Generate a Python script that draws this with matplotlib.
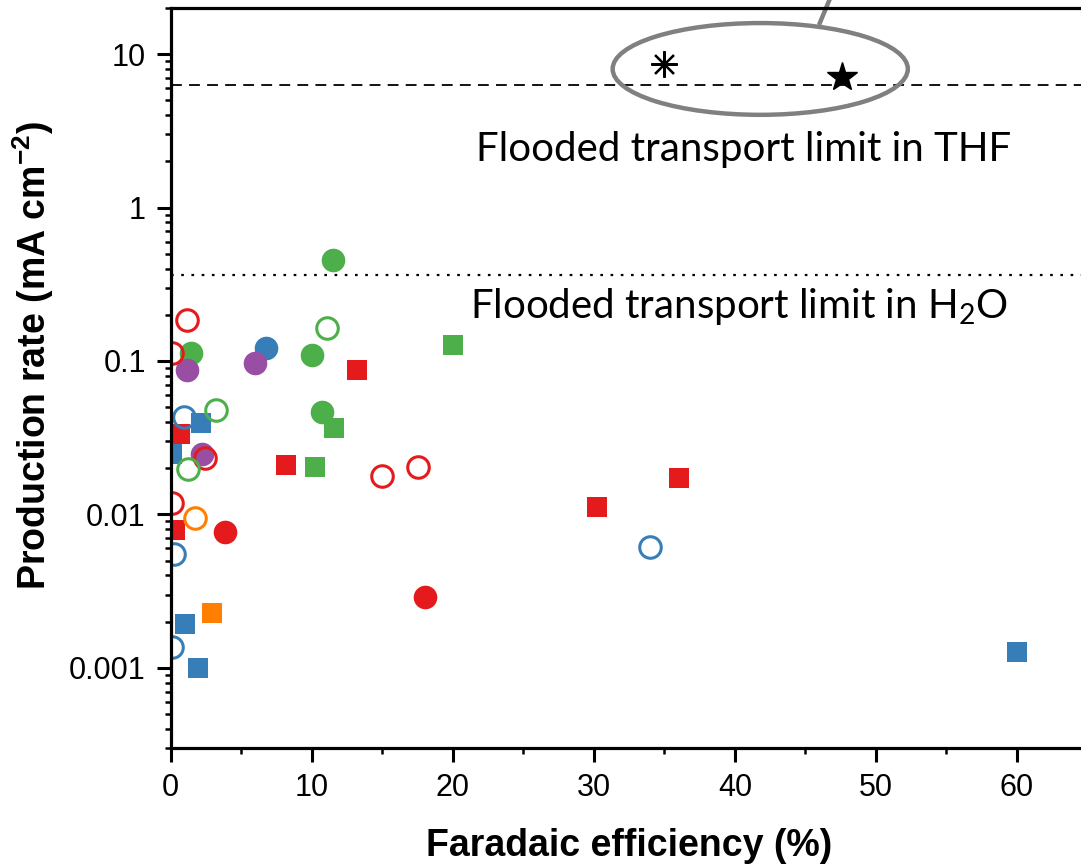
import matplotlib
matplotlib.use("Agg")
import matplotlib.pyplot as plt
from matplotlib.patches import Ellipse
from matplotlib.ticker import FixedLocator, LogLocator, NullFormatter, FuncFormatter
import numpy as np

# colours (Set1-like)
red = "#e41a1c"
blue = "#377eb8"
green = "#4daf4a"
purple = "#984ea3"
orange = "#ff7f00"

# data: Faradaic efficiency (%), production rate (mA cm-2)
red_open_x = [1.13, 0.05, 2.41, 15.0, 17.5, 0.05]
red_open_y = [0.186, 0.1135, 0.0232, 0.0179, 0.0203, 0.0118]
red_sq_x = [13.2, 0.64, 8.2, 0.3, 30.2, 36.0]
red_sq_y = [0.087, 0.0332, 0.0209, 0.0079, 0.0111, 0.0172]
red_fill_x = [3.83, 18.0]
red_fill_y = [0.00764, 0.00288]

blue_open_x = [0.92, 0.25, 0.1, 34.0]
blue_open_y = [0.0428, 0.0055, 0.00136, 0.0061]
blue_sq_x = [2.13, 0.1, 1.0, 1.94, 60.0]
blue_sq_y = [0.0392, 0.0249, 0.00192, 0.0010, 0.00126]
blue_fill_x = [6.74]
blue_fill_y = [0.1206]

green_open_x = [11.06, 3.19, 1.2]
green_open_y = [0.165, 0.0476, 0.0199]
green_fill_x = [1.4, 9.98, 10.7, 11.5]
green_fill_y = [0.113, 0.110, 0.0462, 0.452]
green_sq_x = [20.0, 11.6, 10.2]
green_sq_y = [0.128, 0.0363, 0.0203]

purple_fill_x = [1.15, 5.96, 2.2]
purple_fill_y = [0.0867, 0.0964, 0.0246]

orange_open_x = [1.7]
orange_open_y = [0.0095]
orange_sq_x = [2.9]
orange_sq_y = [0.00226]

ast_x, ast_y = [35.0], [8.65]
star_x, star_y = [47.6], [7.1]

thf_limit = 6.3
h2o_limit = 0.366

fig = plt.figure(figsize=(10.81, 8.66), dpi=100)
ax = fig.add_axes([0.158, 0.1363, 0.848, 0.8545])

# limit lines
ax.axhline(thf_limit, color="black", lw=1.3, dashes=(6, 4), zorder=1)
ax.axhline(h2o_limit, color="black", lw=1.6, dashes=(1.2, 3.4), zorder=1)

sq = dict(ls="none", marker="s", ms=15, mew=0)
op = dict(ls="none", marker="o", ms=15.5, mfc="none", mew=2.2)
fl = dict(ls="none", marker="o", ms=17, mew=0)

ax.plot(green_sq_x, green_sq_y, color=green, **sq)
ax.plot(red_sq_x, red_sq_y, color=red, **sq)
ax.plot(blue_sq_x, blue_sq_y, color=blue, **sq)
ax.plot(orange_sq_x, orange_sq_y, color=orange, **sq)
ax.plot(green_fill_x, green_fill_y, color=green, **fl)
ax.plot(blue_fill_x, blue_fill_y, color=blue, **fl)
ax.plot(red_fill_x, red_fill_y, color=red, **fl)
ax.plot(purple_fill_x, purple_fill_y, color=purple, **fl)
ax.plot(red_open_x, red_open_y, color=red, **op)
ax.plot(blue_open_x, blue_open_y, color=blue, **op)
ax.plot(green_open_x, green_open_y, color=green, **op)
ax.plot(orange_open_x, orange_open_y, color=orange, **op)

ax.plot(ast_x, ast_y, ls="none", marker=(8, 2, 0), ms=19, mew=1.6, color="black")
ax.plot(star_x, star_y, ls="none", marker="*", ms=22, color="black")

# grey ellipse around the THF points, with leader line
ax.add_patch(Ellipse((0.643, 0.9176), 0.322, 0.124, transform=ax.transAxes,
                     fill=False, ec="#808080", lw=3.2, zorder=3))
ax.plot([0.708, 0.735], [0.9797, 1.06], transform=ax.transAxes,
        color="#808080", lw=3.2, clip_on=False)

txt = dict(family="Lato", fontsize=29, ha="center", va="baseline")
ax.text(0.625, 0.793, "Flooded transport limit in THF", transform=ax.transAxes, **txt)
ax.text(0.620, 0.581, "Flooded transport limit in H$_\\mathregular{2}$O",
        transform=ax.transAxes, **txt)

# axes
ax.set_yscale("log")
ax.set_xlim(0, 65)
ax.set_ylim(3e-4, 20)
ax.xaxis.set_major_locator(FixedLocator([0, 10, 20, 30, 40, 50, 60]))
ax.xaxis.set_minor_locator(FixedLocator([5, 15, 25, 35, 45, 55]))
ax.yaxis.set_major_locator(FixedLocator([0.001, 0.01, 0.1, 1, 10]))
ax.yaxis.set_minor_locator(LogLocator(base=10, subs=np.arange(2, 10)))
ax.yaxis.set_minor_formatter(NullFormatter())
ax.yaxis.set_major_formatter(FuncFormatter(lambda v, p: "%g" % v))

for s in ["left", "bottom", "top", "right"]:
    ax.spines[s].set_linewidth(2.3)

ax.tick_params(which="major", length=10, width=2.2, labelsize=22, pad=8)
ax.tick_params(which="minor", length=4.5, width=1.8)
ax.tick_params(top=False, right=False)
for lab in ax.get_xticklabels() + ax.get_yticklabels():
    lab.set_family("Liberation Sans")

ax.set_xlabel("Faradaic efficiency (%)", family="Liberation Sans",
              fontsize=27, fontweight="bold", va="top")
ax.set_ylabel("Production rate (mA cm$^\\mathregular{-2}$)", family="Liberation Sans",
              fontsize=27, fontweight="bold")
ax.xaxis.set_label_coords(0.5, -0.108)
ax.yaxis.set_label_coords(-0.125, 0.53)

fig.savefig("out.png", dpi=100)
